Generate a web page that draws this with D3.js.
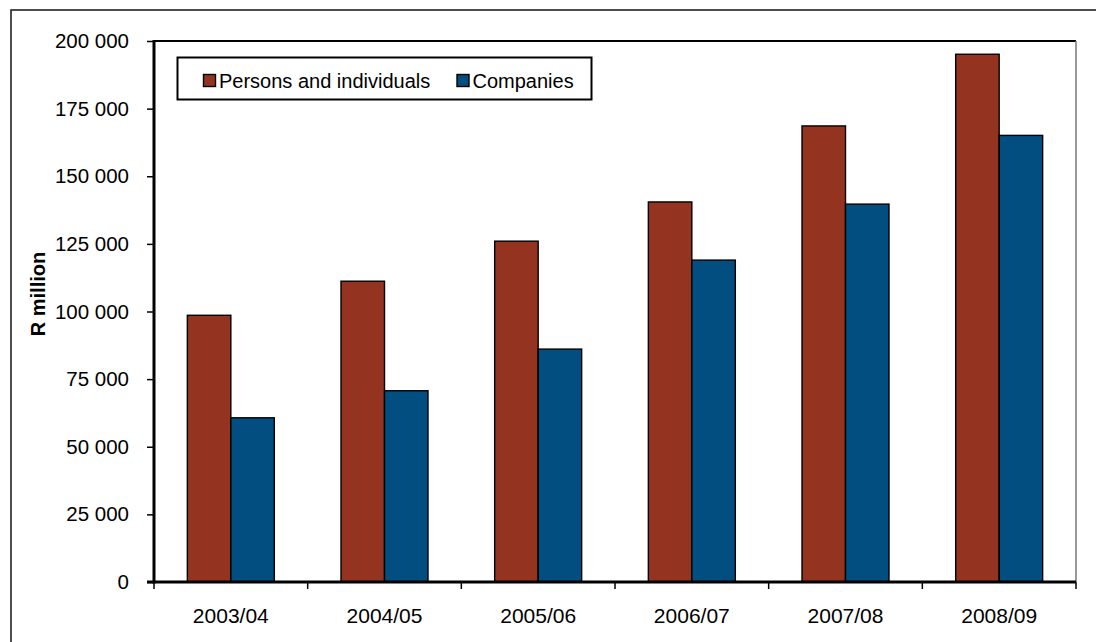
<!DOCTYPE html>
<html>
<head>
<meta charset="utf-8">
<script src="https://cdn.jsdelivr.net/npm/d3@7"></script>
<style>
  body { margin: 0; background: #fff; }
  svg { display: block; font-family: "Liberation Sans", Arial, sans-serif; }
</style>
</head>
<body>
<svg id="chart" width="1096" height="642"></svg>
<script>
const categories = ["2003/04", "2004/05", "2005/06", "2006/07", "2007/08", "2008/09"];
const seriesNames = ["Persons and individuals", "Companies"];
const personsValues = [98600, 111200, 126000, 140500, 168600, 195100];
const companiesValues = [60700, 70700, 86100, 119000, 139700, 165100];
const yTicks = [0, 25000, 50000, 75000, 100000, 125000, 150000, 175000, 200000];
const colors = ["#943420", "#024E80"];

const svg = d3.select("#chart");
const W = 1096, H = 642;
const m = { left: 154, right: 1076, top: 41, bottom: 582 };

// outer frame
svg.append("rect").attr("x", 11).attr("y", 10).attr("width", W + 20).attr("height", H + 20)
  .attr("fill", "none").attr("stroke", "#222").attr("stroke-width", 1.6);

const x0 = d3.scaleBand().domain(categories).range([m.left, m.right]);
const groupW = x0.bandwidth() * 0.566;
const x1 = d3.scaleBand().domain(seriesNames).range([0, groupW]);
const y = d3.scaleLinear().domain([0, 200000]).range([m.bottom, m.top]);

// plot area border (top black, right grey)
svg.append("line").attr("x1", m.left).attr("x2", m.right).attr("y1", m.top).attr("y2", m.top)
  .attr("stroke", "#000").attr("stroke-width", 2.2);
svg.append("line").attr("x1", m.right).attr("x2", m.right).attr("y1", m.top).attr("y2", m.bottom)
  .attr("stroke", "#777").attr("stroke-width", 1.5);

// bars
const data = categories.map((c, i) => ({ cat: c, vals: [personsValues[i], companiesValues[i]] }));
const groups = svg.append("g").selectAll("g").data(data).join("g")
  .attr("transform", d => `translate(${x0(d.cat) + (x0.bandwidth() - groupW) / 2},0)`);
groups.selectAll("rect").data(d => d.vals.map((v, k) => ({ v, k }))).join("rect")
  .attr("x", d => x1(seriesNames[d.k]))
  .attr("width", x1.bandwidth())
  .attr("y", d => y(d.v))
  .attr("height", d => y(0) - y(d.v))
  .attr("fill", d => colors[d.k])
  .attr("stroke", "#000").attr("stroke-width", 1.4);

// y axis
const yAxis = d3.axisLeft(y).tickValues(yTicks).tickSize(7).tickPadding(18)
  .tickFormat(v => d3.format(",")(v).replace(/,/g, " "));
const ya = svg.append("g").attr("transform", `translate(${m.left},0)`).call(yAxis);
ya.select(".domain").remove();
ya.selectAll(".tick line").attr("stroke", "#000").attr("stroke-width", 1.5);
ya.selectAll(".tick text").attr("font-size", 20.5).attr("fill", "#000")
  .attr("font-family", "Liberation Sans, Arial, sans-serif");
svg.append("line").attr("x1", m.left).attr("x2", m.left).attr("y1", m.top - 1).attr("y2", m.bottom + 1.5)
  .attr("stroke", "#000").attr("stroke-width", 3);

// x axis: boundary ticks + centered labels
const xBound = d3.scaleLinear().domain([0, categories.length]).range([m.left, m.right]);
const xa = svg.append("g");
xa.selectAll("line.t").data(d3.range(categories.length + 1)).join("line")
  .attr("x1", d => xBound(d)).attr("x2", d => xBound(d))
  .attr("y1", m.bottom).attr("y2", m.bottom + 7)
  .attr("stroke", "#000").attr("stroke-width", 1.5);
xa.selectAll("text").data(categories).join("text")
  .attr("x", d => x0(d) + x0.bandwidth() / 2).attr("y", 623)
  .attr("text-anchor", "middle").attr("font-size", 21).attr("fill", "#000")
  .text(d => d);
svg.append("line").attr("x1", m.left - 7).attr("x2", m.right).attr("y1", m.bottom).attr("y2", m.bottom)
  .attr("stroke", "#000").attr("stroke-width", 3);

// y title
svg.append("text").attr("transform", "translate(45,294) rotate(-90)")
  .attr("text-anchor", "middle").attr("font-size", 20).attr("font-weight", "bold")
  .text("R million");

// legend
const lg = svg.append("g");
lg.append("rect").attr("x", 177.5).attr("y", 57.5).attr("width", 414).attr("height", 42)
  .attr("fill", "#fff").attr("stroke", "#000").attr("stroke-width", 2);
const legX = [203.5, 457];
seriesNames.forEach((s, k) => {
  lg.append("rect").attr("x", legX[k]).attr("y", 74.5).attr("width", 12).attr("height", 12)
    .attr("fill", colors[k]).attr("stroke", "#000").attr("stroke-width", 1.4);
  lg.append("text").attr("x", legX[k] + 15.5).attr("y", 87.5).attr("font-size", 20)
    .attr("fill", "#000").text(s);
});
</script>
</body>
</html>
